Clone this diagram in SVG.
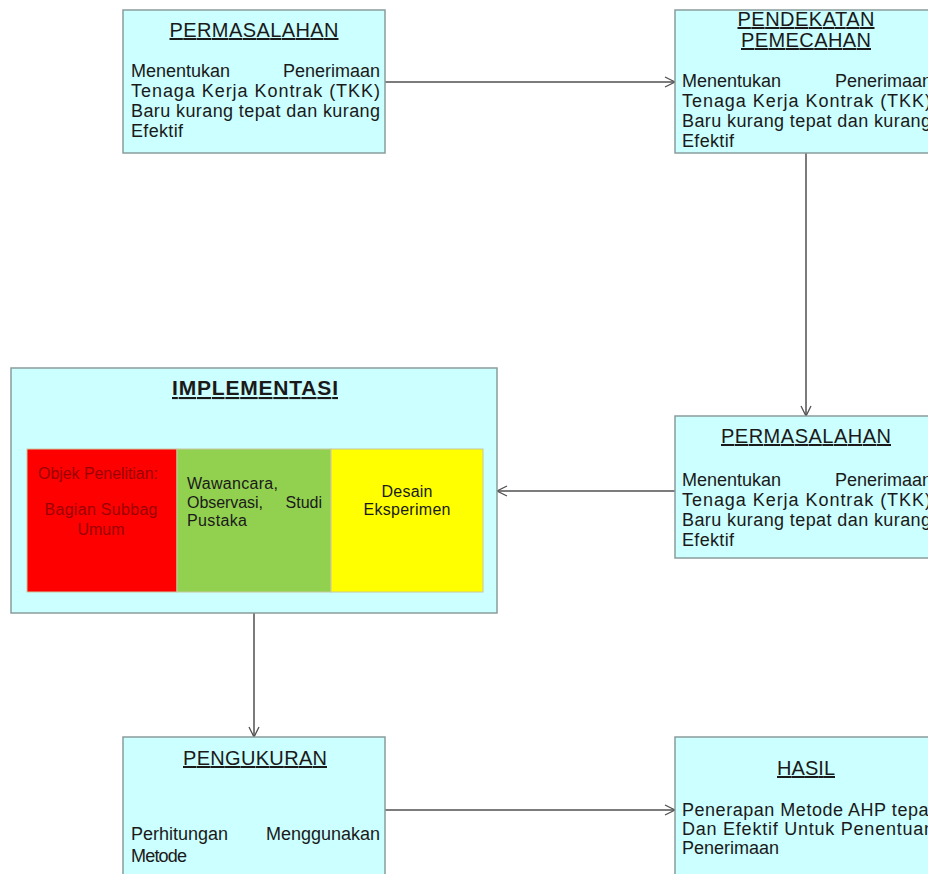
<svg xmlns="http://www.w3.org/2000/svg" width="928" height="874" viewBox="0 0 928 874">
<defs>
<marker id="arr" markerUnits="userSpaceOnUse" markerWidth="14" markerHeight="14" refX="11" refY="6" orient="auto">
<path d="M1,1 L11,6 L1,11" fill="none" stroke="#505050" stroke-width="1.3"/>
</marker>
<style>
.box{fill:#ccffff;stroke:#8a9c9c;stroke-width:1.5}
.t{font-family:"Liberation Sans",Arial,sans-serif;font-size:20px;fill:#1a1a1a;text-anchor:middle;text-decoration:underline}
.tb{font-family:"Liberation Sans",Arial,sans-serif;font-size:21px;font-weight:bold;fill:#1a1a1a;text-anchor:middle;text-decoration:underline}
.b{font-family:"Liberation Sans",Arial,sans-serif;font-size:18px;fill:#1a1a1a}
.s{font-family:"Liberation Sans",Arial,sans-serif;font-size:16px;fill:#1a1a1a}
.sr{font-family:"Liberation Sans",Arial,sans-serif;font-size:16px;fill:#9a0000;text-anchor:middle}
.sm{font-family:"Liberation Sans",Arial,sans-serif;font-size:16px;fill:#1a1a1a;text-anchor:middle}
.e{text-anchor:end}
.c{fill:none;stroke:#505050;stroke-width:1.5;marker-end:url(#arr)}
</style>
</defs>
<rect width="928" height="874" fill="#ffffff"/>
<g id="connectors">
<path class="c" d="M385,82 H675"/>
<path class="c" d="M806,153 V416"/>
<path class="c" d="M675,491 H497"/>
<path class="c" d="M254,613 V737"/>
<path class="c" d="M385,810 H675"/>
</g>
<g id="permasalahan1">
<rect class="box" x="123" y="10" width="262" height="143"/>
<text class="t" x="254" y="37" textLength="169" lengthAdjust="spacing">PERMASALAHAN</text>
<text class="b" x="131" y="77">Menentukan</text>
<text class="b e" x="380" y="77">Penerimaan</text>
<text class="b" x="131" y="97" textLength="249" lengthAdjust="spacing">Tenaga Kerja Kontrak (TKK)</text>
<text class="b" x="131" y="117" textLength="249" lengthAdjust="spacing">Baru kurang tepat dan kurang</text>
<text class="b" x="131" y="137" textLength="52" lengthAdjust="spacing">Efektif</text>
</g>
<g id="pendekatan">
<rect class="box" x="675" y="10" width="262" height="143"/>
<text class="t" x="806" y="26" textLength="137" lengthAdjust="spacing">PENDEKATAN</text>
<text class="t" x="806" y="47" textLength="130" lengthAdjust="spacing">PEMECAHAN</text>
<text class="b" x="682" y="87">Menentukan</text>
<text class="b e" x="932" y="87">Penerimaan</text>
<text class="b" x="682" y="107" textLength="249" lengthAdjust="spacing">Tenaga Kerja Kontrak (TKK)</text>
<text class="b" x="682" y="127" textLength="249" lengthAdjust="spacing">Baru kurang tepat dan kurang</text>
<text class="b" x="682" y="147" textLength="52" lengthAdjust="spacing">Efektif</text>
</g>
<g id="permasalahan2">
<rect class="box" x="675" y="416" width="262" height="142"/>
<text class="t" x="806" y="443" textLength="170" lengthAdjust="spacing">PERMASALAHAN</text>
<text class="b" x="682" y="486">Menentukan</text>
<text class="b e" x="932" y="486">Penerimaan</text>
<text class="b" x="682" y="506" textLength="249" lengthAdjust="spacing">Tenaga Kerja Kontrak (TKK)</text>
<text class="b" x="682" y="526" textLength="249" lengthAdjust="spacing">Baru kurang tepat dan kurang</text>
<text class="b" x="682" y="546" textLength="52" lengthAdjust="spacing">Efektif</text>
</g>
<g id="implementasi">
<rect class="box" x="11" y="368" width="486" height="245"/>
<text class="tb" x="255" y="395" textLength="166" lengthAdjust="spacing">IMPLEMENTASI</text>
<rect x="27" y="449" width="150" height="143" fill="#ff0000" stroke="#c8c8a0" stroke-width="1"/>
<rect x="177" y="449" width="154" height="143" fill="#92d050" stroke="#c8c8a0" stroke-width="1"/>
<rect x="331" y="449" width="152" height="143" fill="#ffff00" stroke="#c8c8a0" stroke-width="1"/>
<text class="sr" x="98" y="479" textLength="120" lengthAdjust="spacing">Objek Penelitian:</text>
<text class="sr" x="101" y="515" textLength="113" lengthAdjust="spacing">Bagian Subbag</text>
<text class="sr" x="101" y="535" textLength="47" lengthAdjust="spacing">Umum</text>
<text class="s" x="187" y="489" textLength="91" lengthAdjust="spacing">Wawancara,</text>
<text class="s" x="187" y="508" textLength="76" lengthAdjust="spacing">Observasi,</text>
<text class="s e" x="322" y="508">Studi</text>
<text class="s" x="187" y="526" textLength="60" lengthAdjust="spacing">Pustaka</text>
<text class="sm" x="407" y="497" textLength="51" lengthAdjust="spacing">Desain</text>
<text class="sm" x="407" y="515" textLength="87" lengthAdjust="spacing">Eksperimen</text>
</g>
<g id="pengukuran">
<rect class="box" x="123" y="737" width="262" height="145"/>
<text class="t" x="255" y="765" textLength="144" lengthAdjust="spacing">PENGUKURAN</text>
<text class="b" x="131" y="840">Perhitungan</text>
<text class="b e" x="380" y="840">Menggunakan</text>
<text class="b" x="131" y="862" textLength="56" lengthAdjust="spacing">Metode</text>
</g>
<g id="hasil">
<rect class="box" x="675" y="737" width="262" height="145"/>
<text class="t" x="806" y="775" textLength="58" lengthAdjust="spacing">HASIL</text>
<text class="b" x="682" y="816" textLength="252" lengthAdjust="spacing">Penerapan Metode AHP tepat</text>
<text class="b" x="682" y="835" textLength="252" lengthAdjust="spacing">Dan Efektif Untuk Penentuan</text>
<text class="b" x="682" y="854">Penerimaan</text>
</g>
</svg>
